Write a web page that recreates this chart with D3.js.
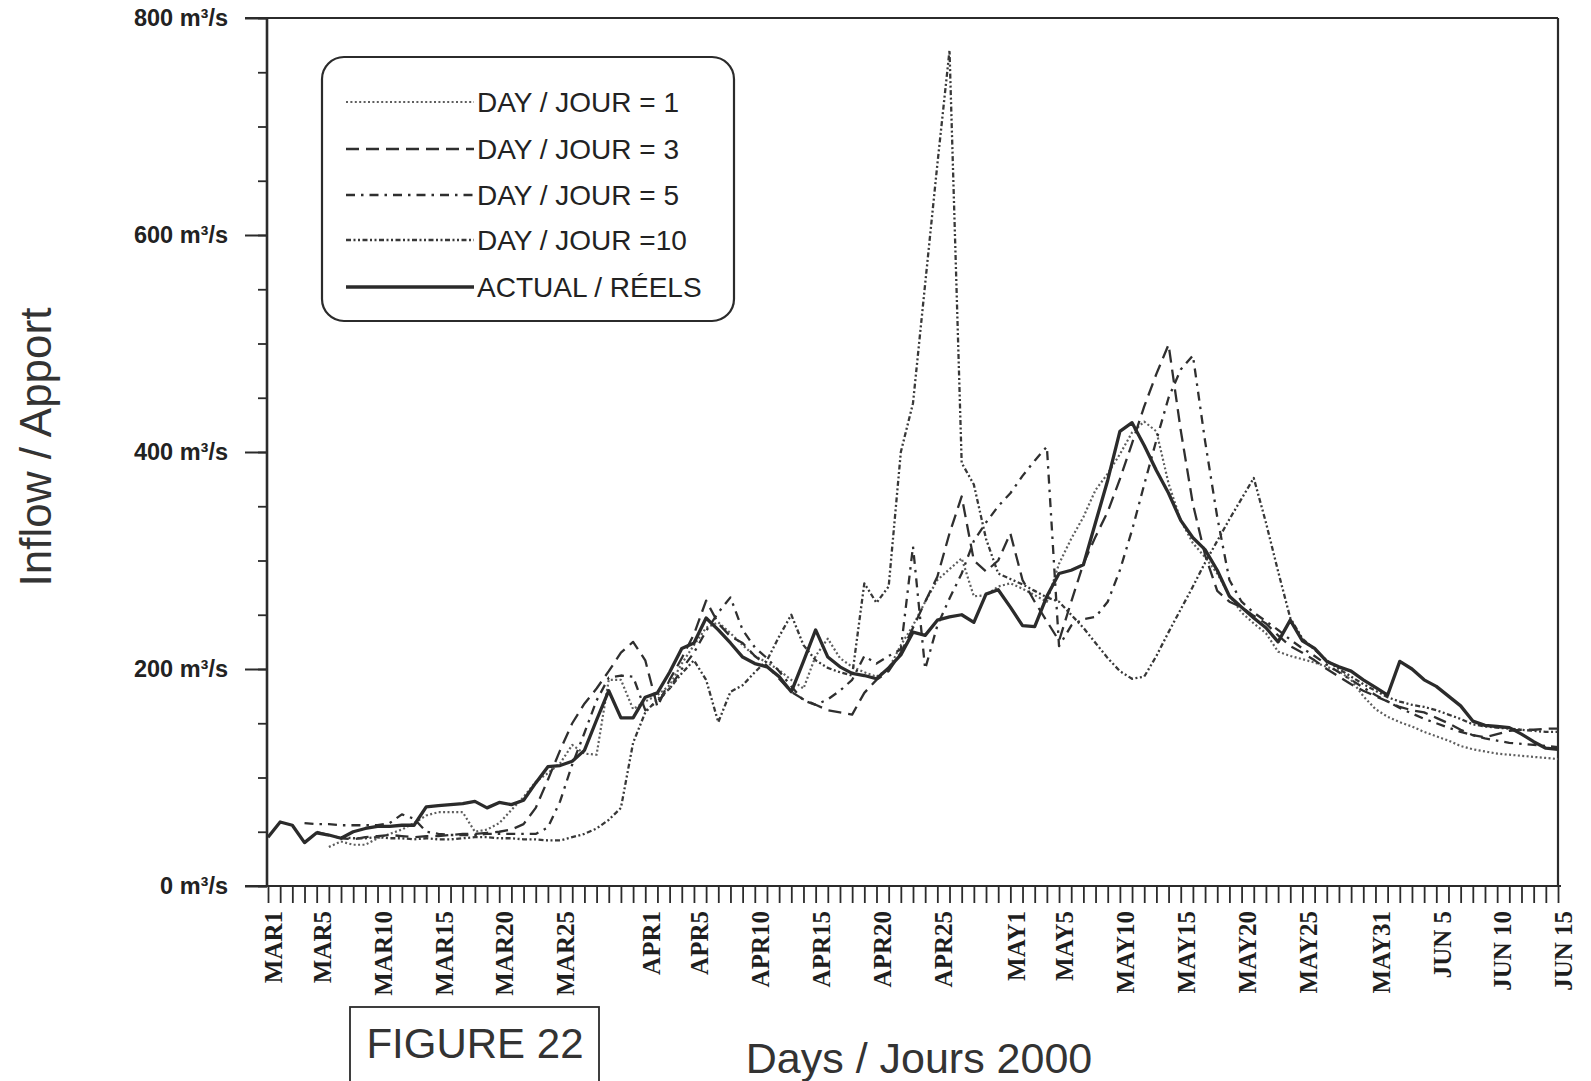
<!DOCTYPE html>
<html>
<head>
<meta charset="utf-8">
<script src="https://cdn.jsdelivr.net/npm/d3@7"></script>
<style>
  html, body { margin: 0; padding: 0; background: #ffffff; }
  svg { display: block; }
</style>
</head>
<body>
<svg id="chart" width="1591" height="1081"></svg>
<script>
// ---------------- DATA ----------------
// day index: 0 = MAR 1 ... 106 = JUN 15 (year 2000)
const yTickValues = [0, 200, 400, 600, 800];
const yTickLabels = ["0 m³/s", "200 m³/s", "400 m³/s", "600 m³/s", "800 m³/s"];
const xLabelDays = [0, 4, 9, 14, 19, 24, 31, 35, 40, 45, 50, 55, 61, 65, 70, 75, 80, 85, 91, 96, 101, 106];
const xLabelTexts = ["MAR1", "MAR5", "MAR10", "MAR15", "MAR20", "MAR25", "APR1", "APR5", "APR10", "APR15",
  "APR20", "APR25", "MAY1", "MAY5", "MAY10", "MAY15", "MAY20", "MAY25", "MAY31", "JUN 5", "JUN 10", "JUN 15"];

const seriesNames = ["DAY / JOUR = 1", "DAY / JOUR = 3", "DAY / JOUR = 5", "DAY / JOUR =10", "ACTUAL / RÉELS"];

const actualStart = 0;
const actual = [45,59,56,40,49,47,44,50,53,55,
  55,56,56,73,74,75,76,78,72,77,
  75,79,95,110,111,115,125,153,180,155,
  155,174,178,197,219,224,247,236,224,211,
  205,202,193,179,207,236,211,202,196,194,
  191,201,213,234,231,245,248,250,243,269,
  273,257,240,239,267,288,291,296,335,374,
  419,427,406,383,362,337,321,310,291,267,
  257,247,238,225,245,226,219,207,202,198,
  190,183,176,207,200,190,184,175,166,152,
  148,147,146,140,133,127,126];

const day1Start = 5;
const day1 = [36,41,38,38,44,48,52,58,65,68,
  68,68,50,52,58,70,82,96,104,113,
  130,122,121,190,190,163,170,176,185,205,
  222,238,243,233,222,212,206,199,190,182,
  212,228,210,202,197,193,200,222,240,262,
  282,292,302,267,268,276,279,274,268,262,
  297,320,340,365,380,398,418,428,419,371,
  337,316,303,288,268,252,242,233,216,212,
  209,206,202,198,190,175,163,156,151,147,
  142,138,134,129,126,124,122,121,120,119,
  118,117];

const day3Start = 4;
const day3 = [50,47,44,43,45,46,47,46,45,46,
  46,47,48,48,49,50,52,57,72,98,
  125,150,168,182,198,215,225,208,165,190,
  210,232,263,242,230,224,212,203,191,179,
  172,167,162,160,158,178,190,198,215,238,
  262,285,325,359,300,290,300,325,282,262,
  244,226,262,297,322,345,375,408,442,472,
  499,420,352,305,272,262,257,249,242,231,
  221,215,208,200,193,186,180,175,170,165,
  162,160,155,150,144,139,137,140,143,144,
  144,145,145];

const day5Start = 3;
const day5 = [58,57,57,56,56,56,56,58,66,62,
  50,48,47,47,47,48,48,48,48,48,
  54,78,112,141,171,192,194,193,162,170,
  182,200,215,235,252,266,236,220,210,198,
  184,171,167,172,180,190,212,205,212,218,
  313,200,240,265,288,318,335,350,362,378,
  392,405,221,240,246,248,262,291,328,370,
  411,450,476,489,410,340,282,262,252,244,
  236,227,219,212,204,197,190,183,176,170,
  164,159,154,150,146,142,139,136,134,132,
  131,130,129,128];

const day10Start = 6;
const day10 = [45,44,44,45,44,44,43,44,43,43,
  44,45,45,44,44,43,43,42,42,45,
  48,53,61,72,132,160,172,182,196,208,
  190,151,179,185,197,208,230,250,222,208,
  201,197,194,279,261,276,400,445,555,665,
  770,390,370,320,288,283,278,272,266,262,
  250,238,224,210,198,191,193,212,234,255,
  276,298,318,338,357,376,335,290,247,228,
  218,208,200,193,186,180,174,170,167,165,
  162,158,154,149,147,146,145,144,143,142,
  142];

// ---------------- LAYOUT ----------------
const svg = d3.select("#chart");
const plotLeft = 267, plotRight = 1558, plotTop = 18, plotBottom = 886;
const ink = "#2b2b2b";

const x = d3.scaleLinear().domain([0, 106]).range([268, plotRight]);
const y = d3.scaleLinear().domain([0, 800]).range([plotBottom, plotTop]);

function toPoints(start, vals) {
  return vals.map((v, i) => ({ day: start + i, v: v }));
}

const styles = [
  { data: toPoints(day1Start, day1), dash: "2,2.4", width: 2.2, color: "#5e5e5e" },
  { data: toPoints(day3Start, day3), dash: "13,7", width: 2.3, color: "#2f2f2f" },
  { data: toPoints(day5Start, day5), dash: "9,6,2.5,6", width: 2.3, color: "#2f2f2f" },
  { data: toPoints(day10Start, day10), dash: "5,2.5,2,2.5,2,2.5", width: 2.3, color: "#383838" },
  { data: toPoints(actualStart, actual), dash: null, width: 3.3, color: ink }
];

// ---------------- AXES ----------------
svg.append("g")
  .attr("transform", `translate(${plotLeft},0)`)
  .call(d3.axisLeft(y).tickValues(d3.range(0, 801, 50)).tickSize(9).tickFormat(""))
  .call(g => g.select(".domain").remove())
  .call(g => g.selectAll("line").attr("stroke", ink).attr("stroke-width", 1.8));

svg.append("g")
  .attr("transform", `translate(${plotLeft},0)`)
  .call(d3.axisLeft(y).tickValues(yTickValues).tickSize(22).tickPadding(17)
    .tickFormat((d, i) => yTickLabels[i]))
  .call(g => g.select(".domain").remove())
  .call(g => g.selectAll("line").attr("stroke", ink).attr("stroke-width", 2))
  .call(g => g.selectAll("text")
    .attr("fill", "#222")
    .attr("font-family", "'Liberation Sans', Arial, sans-serif")
    .attr("font-weight", "bold")
    .attr("font-size", 23.5));

svg.append("g")
  .attr("transform", `translate(0,${plotBottom})`)
  .call(d3.axisBottom(x).tickValues(d3.range(0, 107)).tickSize(17).tickFormat(""))
  .call(g => g.select(".domain").remove())
  .call(g => g.selectAll("line").attr("stroke", ink).attr("stroke-width", 1.8));

const xl = svg.append("g")
  .attr("transform", `translate(0,${plotBottom})`)
  .call(d3.axisBottom(x).tickValues(xLabelDays).tickSize(0)
    .tickFormat((d, i) => xLabelTexts[i]))
  .call(g => g.select(".domain").remove());
xl.selectAll(".tick text")
  .attr("transform", "translate(5,25) rotate(-90)")
  .attr("x", 0).attr("y", 0).attr("dy", "0.35em")
  .attr("text-anchor", "end")
  .attr("fill", "#1e1e1e")
  .attr("font-family", "'Liberation Serif', 'Times New Roman', serif")
  .attr("font-weight", "bold")
  .attr("font-size", 25);

// frame
svg.append("line").attr("x1", 245).attr("x2", plotRight).attr("y1", plotTop).attr("y2", plotTop)
  .attr("stroke", ink).attr("stroke-width", 2.2);
svg.append("line").attr("x1", 245).attr("x2", plotRight + 3).attr("y1", plotBottom).attr("y2", plotBottom)
  .attr("stroke", ink).attr("stroke-width", 2.2);
svg.append("line").attr("x1", plotLeft).attr("x2", plotLeft).attr("y1", plotTop).attr("y2", plotBottom)
  .attr("stroke", ink).attr("stroke-width", 2.6);
svg.append("line").attr("x1", plotRight).attr("x2", plotRight).attr("y1", plotTop).attr("y2", plotBottom)
  .attr("stroke", ink).attr("stroke-width", 2.2);

// ---------------- LINES ----------------
const line = d3.line().x(d => x(d.day)).y(d => y(d.v));
const gLines = svg.append("g");
styles.forEach(s => {
  gLines.append("path")
    .datum(s.data)
    .attr("d", line)
    .attr("fill", "none")
    .attr("stroke", s.color)
    .attr("stroke-width", s.width)
    .attr("stroke-linejoin", "round")
    .attr("stroke-dasharray", s.dash);
});

// ---------------- LEGEND ----------------
const lg = svg.append("g");
lg.append("rect")
  .attr("x", 322).attr("y", 57).attr("width", 412).attr("height", 264)
  .attr("rx", 22).attr("ry", 22)
  .attr("fill", "#fff").attr("stroke", ink).attr("stroke-width", 2.2);
const rowY = [102, 149, 195, 240, 287];
styles.forEach((s, i) => {
  lg.append("line")
    .attr("x1", 346).attr("x2", 474)
    .attr("y1", rowY[i]).attr("y2", rowY[i])
    .attr("stroke", s.color).attr("stroke-width", s.width)
    .attr("stroke-dasharray", s.dash);
  lg.append("text")
    .attr("x", 477).attr("y", rowY[i]).attr("dy", "0.36em")
    .attr("fill", "#222")
    .attr("font-family", "'Liberation Sans', Arial, sans-serif")
    .attr("font-size", 28)
    .text(seriesNames[i]);
});

// ---------------- TITLES ----------------
svg.append("text")
  .attr("transform", "translate(36,447) rotate(-90)")
  .attr("dy", "0.35em")
  .attr("text-anchor", "middle")
  .attr("fill", "#333")
  .attr("font-family", "'Liberation Sans', Arial, sans-serif")
  .attr("font-size", 44)
  .text("Inflow / Apport");

svg.append("text")
  .attr("x", 919).attr("y", 1073)
  .attr("text-anchor", "middle")
  .attr("fill", "#333")
  .attr("font-family", "'Liberation Sans', Arial, sans-serif")
  .attr("font-size", 43)
  .text("Days / Jours 2000");

svg.append("rect")
  .attr("x", 350).attr("y", 1007).attr("width", 249).attr("height", 100)
  .attr("fill", "none").attr("stroke", ink).attr("stroke-width", 1.8);
svg.append("text")
  .attr("x", 475).attr("y", 1058)
  .attr("text-anchor", "middle")
  .attr("fill", "#333")
  .attr("font-family", "'Liberation Sans', Arial, sans-serif")
  .attr("font-size", 42)
  .text("FIGURE 22");
</script>
</body>
</html>
